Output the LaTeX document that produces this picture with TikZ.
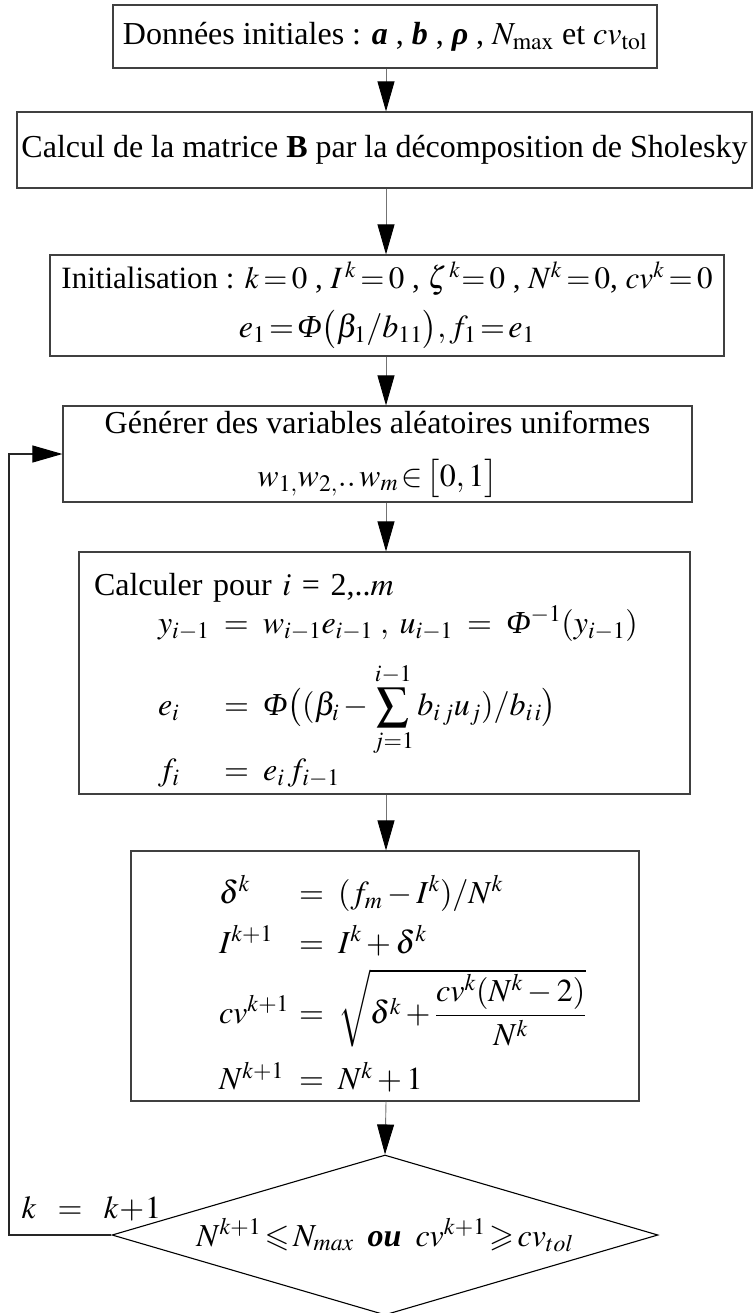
\documentclass[tikz,border=0pt]{standalone}
\usepackage{amsmath,amssymb}
\usepackage{mathptmx}
\usepackage{fontspec}
\setmainfont{Liberation Serif}
\usetikzlibrary{positioning,arrows.meta,shapes.geometric}

\newcommand{\itPhi}{\mbox{\itshape Φ}}
\newcommand{\bfit}[1]{\mbox{\bfseries\itshape #1}}

\begin{document}
\begin{tikzpicture}[
  x=1pt, y=-1pt,
  every node/.style={font=\fontsize{32}{38}\selectfont},
  box/.style={rectangle, draw=black!75, line width=1.2pt, inner sep=0pt},
  decision/.style={diamond, draw=black, line width=1.1pt, inner sep=0pt,
                   aspect=3.41},
  arr/.style={-{Triangle[length=30pt,width=17pt,color=black]},
              line width=0.9pt, black!55},
  back/.style={-{Triangle[length=30pt,width=17pt,color=black]},
               line width=1.1pt, black!85},
]
\useasboundingbox (0,0) rectangle (753,1313);

% axis of the vertical arrows and of the return line
\coordinate (axis) at (386,0);
\coordinate (ret) at (9,0);

% boxes, top to bottom
\node[box, minimum width=544pt, minimum height=63pt] (data) at (385,36.5)
  {Données initiales : \bfit{a} , \bfit{b} , \bfit{ρ} , $N_{\mathrm{max}}$ et $cv_{\mathrm{tol}}$};
\node[box, minimum width=735pt, minimum height=76pt] (chol) at (384.5,150)
  {Calcul de la matrice \textbf{B} par la décomposition de Sholesky};
\node[box, minimum width=674pt, minimum height=101pt, align=center] (init) at (387,305.5)
  {{\fontsize{31}{38}\selectfont\thickmuskip=2.5mu Initialisation : $k = 0$ , $I^{\,k} = 0$ , $\zeta^{\,k}\!= 0$ , $N^{k} = 0$, $cv^{k} = 0$}\\[11pt]
   $e_1\!=\!\itPhi\bigl(\beta_1/b_{11}\bigr), f_1\!=\!e_1$};
\node[box, minimum width=629pt, minimum height=96pt, align=center] (gen) at (377.5,454)
  {Générer des variables aléatoires uniformes\\[15pt]
   $w_{1,}w_{2,}..\,w_m\!\in\!\bigl[0,1\bigr]$};
\node[box, minimum width=611pt, minimum height=242pt, text width=611pt,
      align=left] (calc) at (384.5,673)
  {\rule{0pt}{37pt}\hspace*{15pt}Calculer pour $i$ = 2,..$m$\\
   \hspace*{79pt}$y_{i-1}\;=\;w_{i-1}e_{i-1}\;,\;u_{i-1}\;=\;\itPhi^{-1}(y_{i-1})$\\[20pt]
   \hspace*{79pt}\makebox[66pt][l]{$e_i$}$=\;\itPhi\bigl((\beta_i-\displaystyle\sum_{j=1}^{i-1}b_{i\,j}u_j)/b_{i\,i}\bigr)$\\[1pt]
   \hspace*{79pt}\makebox[66pt][l]{$f_i$}$=\;e_i\,f_{i-1}$};
\node[box, minimum width=508pt, minimum height=250pt, text width=508pt,
      align=left] (upd) at (385,976)
  {\rule{0pt}{44pt}\hspace*{88pt}\makebox[80pt][l]{$\delta^{k}$}$=\;(f_{m}-I^{k})/N^{k}$\\[12pt]
   \hspace*{88pt}\makebox[80pt][l]{$I^{k+1}$}$=\;I^{k}+\delta^{k}$\\[12pt]
   \hspace*{88pt}\makebox[80pt][l]{$cv^{k+1}$}$=\;\sqrt{\delta^{k}+\dfrac{cv^{k}(N^{k}-2)}{N^{k}}}$\\[14pt]
   \hspace*{88pt}\makebox[80pt][l]{$N^{k+1}$}$=\;N^{k}+1$};
\node[decision, minimum width=546pt, minimum height=160pt] (test) at (385,1235)
  {$N^{k+1}\!\leqslant\! N_{max}$\hspace{14pt}\bfit{ou}\hspace{14pt}$cv^{k+1}\!\geqslant\! cv_{tol}$};

% arrows
\draw[arr] (data.south -| axis) -- (chol.north -| axis);
\draw[arr] (chol.south -| axis) -- (init.north -| axis);
\draw[arr] (init.south -| axis) -- (gen.north -| axis);
\draw[arr] (gen.south -| axis) -- (calc.north -| axis);
\draw[arr] (calc.south -| axis) -- (upd.north -| axis);
\draw[arr] (upd.south -| axis) -- (test.north);

% return to the generation step
\draw[back] (test.west) -- (test.west -| ret) |- (gen.west);
\node[anchor=base west] (incr) at ([xshift=9pt,yshift=17pt]test.west -| ret)
  {$k\;\;=\;\;k\!+\!1$};

\end{tikzpicture}
\end{document}
